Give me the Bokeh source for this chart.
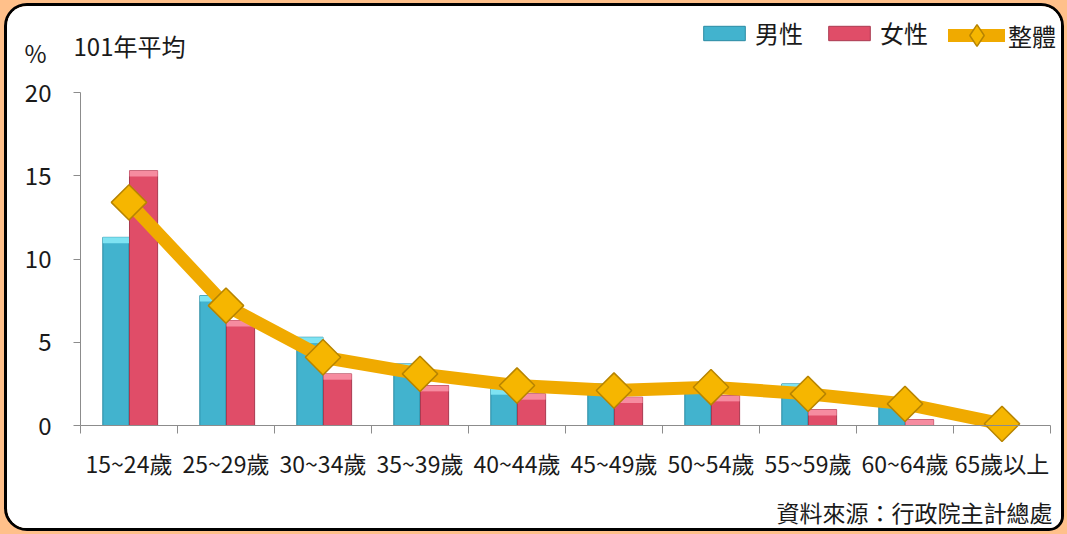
import numpy as np
from bokeh.plotting import figure
from bokeh.models import (Range1d, FixedTicker, Legend, LegendItem, Label, ColumnDataSource)
from bokeh.layouts import column
from bokeh.embed import file_html
from bokeh.resources import INLINE

categories = ["15~24歲", "25~29歲", "30~34歲", "35~39歲", "40~44歲",
              "45~49歲", "50~54歲", "55~59歲", "60~64歲", "65歲以上"]
male = [11.3, 7.8, 5.3, 3.7, 2.2, 2.5, 2.4, 2.5, 1.6, 0.0]
female = [15.3, 6.3, 3.1, 2.4, 1.9, 1.7, 1.8, 0.95, 0.35, 0.0]
overall = [13.4, 7.2, 4.1, 3.1, 2.4, 2.1, 2.3, 1.9, 1.3, 0.1]
y_ticks = [0, 5, 10, 15, 20]

FONT = "Noto Sans CJK TC"
TXT = "#1A1A1A"
n = len(categories)
centers = np.arange(n) + 0.5
bounds = list(np.arange(n + 1))

src = ColumnDataSource(dict(
    x=centers, xm=centers - 0.135, xf=centers + 0.15,
    male=male, female=female, overall=overall,
    male_cap=np.maximum(np.array(male) - 0.35, 0),
    female_cap=np.maximum(np.array(female) - 0.35, 0),
))

W, H = 1054, 522          # canvas size (page offset 7, 6)
PX_X, PX_Y = 97.0, 16.65  # pixels per unit
X0, Y0 = 73, 419          # canvas position of (0, 0)

x_range = Range1d(-X0 / PX_X, (W - X0) / PX_X)
y_range = Range1d(-(H - Y0) / PX_Y, Y0 / PX_Y)

p = figure(width=W, height=H, output_backend="svg", toolbar_location=None,
           x_range=x_range, y_range=y_range,
           min_border=0, background_fill_color="white", border_fill_color="white")
p.title.visible = False
p.outline_line_color = None
p.grid.visible = False
p.styles = {"outline": "3px solid black", "border-radius": "20px 20px 12px 20px",
            "overflow": "hidden", "background-color": "white"}

# bars
m_bar = p.vbar(x="xm", top="male", width=0.27, source=src, fill_color="#42B3CE",
               line_color="#2A8AA3", line_width=1)
p.vbar(x="xm", bottom="male_cap", top="male", width=0.27, source=src,
       fill_color="#7EE3F2", line_color=None)
f_bar = p.vbar(x="xf", top="female", width=0.29, source=src, fill_color="#E04D68",
               line_color="#A93A50", line_width=1)
p.vbar(x="xf", bottom="female_cap", top="female", width=0.29, source=src,
       fill_color="#F68CA0", line_color=None)

# overall line
ln = p.line(x="x", y="overall", source=src, line_color="#F0AA00", line_width=13,
            line_join="round", line_cap="round")
mk = p.scatter(x="x", y="overall", source=src, marker="square", size=25, angle=np.pi / 4,
               fill_color="#F6B600", line_color="#B78400", line_width=1.5)
# legend-only diamond (hidden in the plot)
mk_leg = p.scatter(x="x", y="overall", source=src, marker="diamond", size=24,
                   fill_color="#F6B600", line_color="#B78400", line_width=1.5, visible=False)

# axes
ya = p.yaxis[0]
ya.fixed_location = 0
ya.bounds = (0, 20)
ya.ticker = FixedTicker(ticks=y_ticks)
ya.major_tick_out = 7
ya.major_tick_in = 0
ya.minor_tick_line_color = None
ya.axis_line_color = "#8C8C8C"
ya.major_tick_line_color = "#8C8C8C"
ya.major_label_text_font = FONT
ya.major_label_text_font_size = "24px"
ya.major_label_text_color = TXT
ya.major_label_standoff = 22

xa = p.xaxis[0]
xa.fixed_location = 0
xa.bounds = (0, n)
xa.ticker = FixedTicker(ticks=list(centers), minor_ticks=bounds)
xa.major_label_overrides = {float(c): lab for c, lab in zip(centers, categories)}
xa.major_tick_line_color = None
xa.minor_tick_out = 8
xa.minor_tick_in = 0
xa.minor_tick_line_color = "#8C8C8C"
xa.axis_line_color = "#8C8C8C"
xa.major_label_text_font = FONT
xa.major_label_text_font_size = "23px"
xa.major_label_text_color = TXT
xa.major_label_standoff = 12

legend_bars = Legend(items=[
    LegendItem(label="男性", renderers=[m_bar]),
    LegendItem(label="女性", renderers=[f_bar]),
], orientation="horizontal", location=(691, 478), border_line_color=None,
    background_fill_alpha=0, label_text_font=FONT, label_text_font_size="24px",
    label_text_color=TXT, glyph_width=52, glyph_height=18, label_standoff=5,
    spacing=20, padding=0, margin=0)
p.add_layout(legend_bars, "center")

legend_line = Legend(items=[
    LegendItem(label="整體", renderers=[ln, mk_leg]),
], orientation="horizontal", location=(941, 466), border_line_color=None,
    background_fill_alpha=0, label_text_font=FONT, label_text_font_size="24px",
    label_text_color=TXT, glyph_width=57, glyph_height=54, label_standoff=3,
    padding=0, margin=0, inactive_fill_alpha=0)
p.add_layout(legend_line, "center")

p.add_layout(Label(x=28, y=H - 46, x_units="screen", y_units="screen", text="%",
                   text_align="center", text_baseline="middle",
                   text_font=FONT, text_font_size="24px", text_color=TXT))
p.add_layout(Label(x=66, y=H - 39, x_units="screen", y_units="screen", text="101年平均",
                   text_baseline="middle",
                   text_font=FONT, text_font_size="24px", text_color=TXT))
p.add_layout(Label(x=W - 9, y=H - 505, x_units="screen", y_units="screen",
                   text="資料來源：行政院主計總處", text_align="right", text_baseline="middle",
                   text_font=FONT, text_font_size="23px", text_color=TXT))

layout = column(p, styles={"background-color": "#FFC08A", "padding": "6px 6px 6px 7px"})
open("out.html", "w").write(file_html(layout, INLINE))
